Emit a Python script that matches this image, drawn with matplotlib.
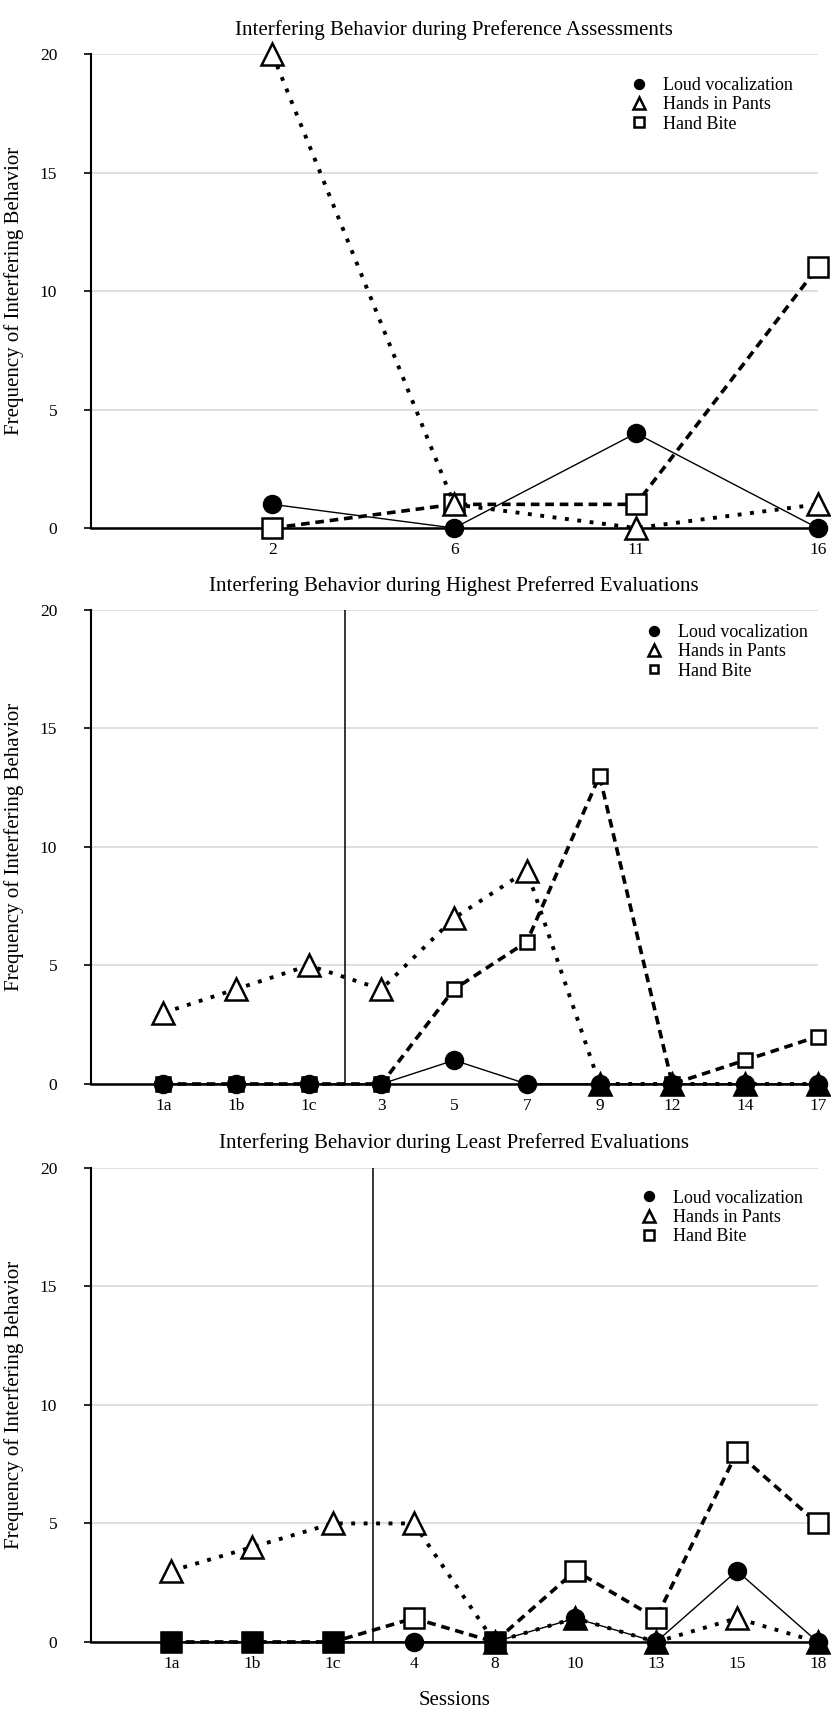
import matplotlib.pyplot as plt

plt.rcParams['font.family'] = ['Liberation Serif', 'DejaVu Serif']

# Data
pref_sessions = ['2', '6', '11', '16']
pref_loud = [1, 0, 4, 0]
pref_pants = [20, 1, 0, 1]
pref_bite = [0, 1, 1, 11]

high_sessions = ['1a', '1b', '1c', '3', '5', '7', '9', '12', '14', '17']
high_loud = [0, 0, 0, 0, 1, 0, 0, 0, 0, 0]
high_pants = [3, 4, 5, 4, 7, 9, 0, 0, 0, 0]
high_bite = [0, 0, 0, 0, 4, 6, 13, 0, 1, 2]

low_sessions = ['1a', '1b', '1c', '4', '8', '10', '13', '15', '18']
low_loud = [0, 0, 0, 0, 0, 1, 0, 3, 0]
low_pants = [3, 4, 5, 5, 0, 1, 0, 1, 0]
low_bite = [0, 0, 0, 1, 0, 3, 1, 8, 5]

y_ticks = [0, 5, 10, 15, 20]


def draw_panel(ax, sessions, loud, pants, bite, title, legend_xy, phase=None, square_size=14):
    x = list(range(1, len(sessions) + 1))

    ax.plot(x, bite, color='black', linestyle=(0, (2.4, 1.6)), linewidth=2.6,
            marker='s', markersize=square_size, markerfacecolor='white',
            markeredgecolor='black', markeredgewidth=1.8,
            label='Hand Bite', clip_on=False, zorder=3)
    ax.plot(x, pants, color='black', linestyle=(0, (1, 2.2)), linewidth=2.8,
            marker='^', markersize=16, markerfacecolor='white',
            markeredgecolor='black', markeredgewidth=1.8,
            label='Hands in Pants', clip_on=False, zorder=4)

    # where a marker sits on top of a loud vocalization point it reads as solid black
    sq_x = [xi for xi, b, l in zip(x, bite, loud) if b == l]
    sq_y = [b for b, l in zip(bite, loud) if b == l]
    ax.plot(sq_x, sq_y, linestyle='none', marker='s', markersize=square_size,
            color='black', clip_on=False, zorder=3.5)
    tr_x = [xi for xi, p, l in zip(x, pants, loud) if p == l]
    tr_y = [p for p, l in zip(pants, loud) if p == l]
    ax.plot(tr_x, tr_y, linestyle='none', marker='^', markersize=16,
            color='black', clip_on=False, zorder=4.5)

    ax.plot(x, loud, color='black', linestyle='-', linewidth=1.0,
            marker='o', markersize=13, markerfacecolor='black',
            markeredgecolor='black', label='Loud vocalization',
            clip_on=False, zorder=5)

    if phase is not None:
        ax.axvline(phase, color='black', linewidth=1.1, zorder=2)

    ax.set_xlim(0, len(sessions))
    ax.set_ylim(0, 20)
    ax.set_xticks(x)
    ax.set_xticklabels(sessions, fontsize=12.5)
    ax.set_yticks(y_ticks)
    ax.set_yticklabels([str(t) for t in y_ticks], fontsize=12.5)
    ax.tick_params(axis='x', length=0, pad=10)
    ax.tick_params(axis='y', length=5, width=1.2, pad=19, direction='out')

    ax.grid(axis='y', color='#d9d9d9', linewidth=1.2, zorder=0)
    ax.set_axisbelow(True)
    for side in ['top', 'right']:
        ax.spines[side].set_visible(False)
    ax.spines['left'].set_linewidth(1.5)
    ax.spines['bottom'].set_linewidth(1.8)

    ax.set_title(title, fontsize=15, pad=14)
    ax.set_ylabel('Frequency of Interfering Behavior', fontsize=15)
    ax.yaxis.set_label_coords(-0.092, 0.5)

    handles, labels = ax.get_legend_handles_labels()
    leg = ax.legend(handles[::-1], labels[::-1], loc='upper left',
                    bbox_to_anchor=legend_xy, frameon=False, fontsize=13,
                    handlelength=1.0, handletextpad=0.8, labelspacing=0.12,
                    borderpad=0, borderaxespad=0, markerscale=0.55)
    for line in leg.get_lines():
        line.set_linestyle('none')


fig = plt.figure(figsize=(8.31, 17.1), dpi=100)

left = 0.109
width = 0.875
height = 0.2772

ax1 = fig.add_axes([left, 0.6912, width, height])
draw_panel(ax1, pref_sessions, pref_loud, pref_pants, pref_bite,
           'Interfering Behavior during Preference Assessments', (0.742, 0.951))

ax2 = fig.add_axes([left, 0.3661, width, height])
draw_panel(ax2, high_sessions, high_loud, high_pants, high_bite,
           'Interfering Behavior during Highest Preferred Evaluations', (0.763, 0.97),
           phase=3.5, square_size=10)

ax3 = fig.add_axes([left, 0.0398, width, height])
draw_panel(ax3, low_sessions, low_loud, low_pants, low_bite,
           'Interfering Behavior during Least Preferred Evaluations', (0.756, 0.954),
           phase=3.5)
ax3.set_xlabel('Sessions', fontsize=15, labelpad=14)

fig.savefig('out.png', dpi=100)
